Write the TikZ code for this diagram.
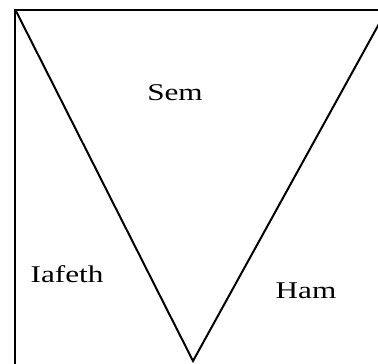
\documentclass[tikz,border=0pt]{standalone}
\usepackage{fontspec}
\setmainfont[FakeStretch=1.3]{Liberation Serif}
\tikzset{sonlabel/.style={font=\fontsize{24}{24}\selectfont}}
\begin{document}
\begin{tikzpicture}[x=1pt,y=-1pt,line width=2pt]
      \useasboundingbox (0,0) rectangle (378,364);
      \clip (0,0) rectangle (378,364);
      \coordinate (tl) at (15,10);
      \coordinate (bl) at (15,366);
      \coordinate (tr) at (380,10);
      \coordinate (top left) at (16,11);
      \coordinate (apex) at (193,361);
      \coordinate (top right) at (385,13);
      \draw (bl) -- (tl) -- (tr);
      \draw (top left) -- (apex) -- (top right);
      \node[sonlabel] (sem) at (175,93) {Sem};
      \node[sonlabel] (iafeth) at (67,274) {Iafeth};
      \node[sonlabel] (ham) at (306,291) {Ham};
    \end{tikzpicture}
\end{document}
